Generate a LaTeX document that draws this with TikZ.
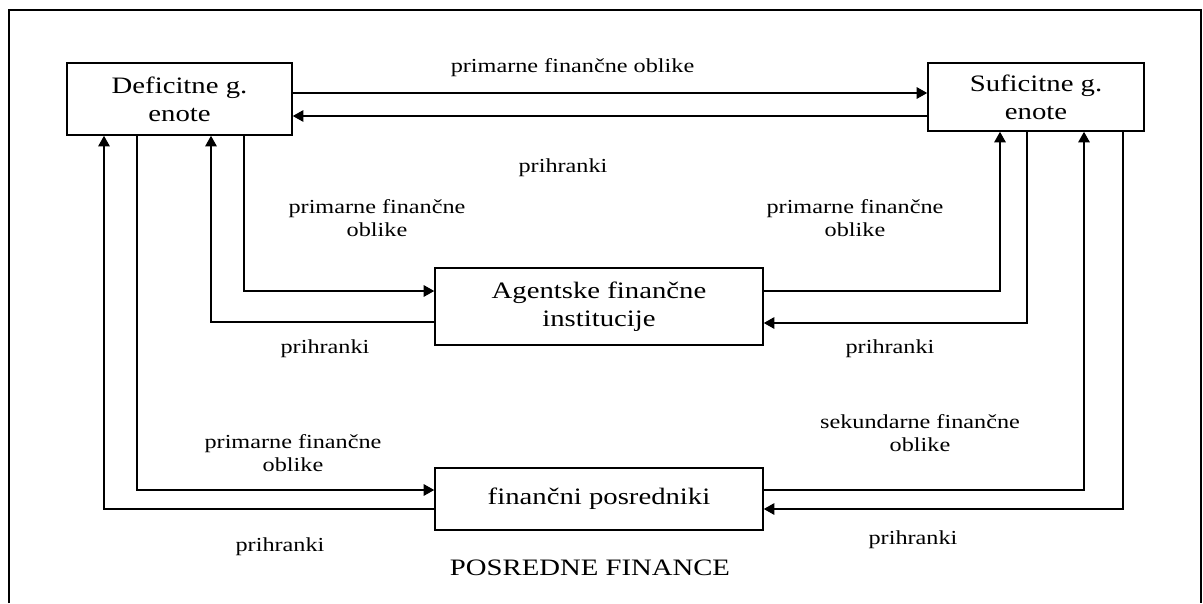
\documentclass[tikz,border=0pt]{standalone}
\usepackage{fontspec}
\setmainfont{Liberation Serif}[FakeStretch=1.22]
\usetikzlibrary{arrows.meta}

\tikzset{
  unit/.style={draw,line width=0.9pt,align=center,inner sep=0pt,
    font=\fontsize{13.4}{15.8}\selectfont},
  flow/.style={line width=0.9pt,-{Triangle[length=6pt,width=6.5pt]}},
  lbl/.style={align=center,inner sep=0pt,font=\fontsize{11.3}{13}\selectfont}
}

\begin{document}
\begin{tikzpicture}[x=0.02cm,y=0.02cm]
  \useasboundingbox (0,0) rectangle (1203,603);
  % frame
  \draw[line width=0.9pt] (9,0) -- (9,593) -- (1201,593) -- (1201,0);

  % units
  \node[unit,minimum width=4.5cm,minimum height=1.44cm] (def) at (179.5,504) {Deficitne g.\\enote};
  \node[unit,minimum width=4.32cm,minimum height=1.36cm] (suf) at (1036,506) {Suficitne g.\\enote};
  \node[unit,minimum width=6.56cm,minimum height=1.54cm] (agent) at (599,296.5) {Agentske finančne\\institucije};
  \node[unit,minimum width=6.56cm,minimum height=1.24cm] (posr) at (599,104) {finančni posredniki};

  % direct finance
  \draw[flow] (def.east |- 0,510) -- (suf.west |- 0,510);
  \draw[flow] (suf.west |- 0,487) -- (def.east |- 0,487);

  % agents
  \draw[flow] (def.south -| 244,0) |- (agent.west |- 0,312);
  \draw[flow] (agent.west |- 0,281) -| (def.south -| 211,0);
  \draw[flow] (agent.east |- 0,312) -| (suf.south -| 1000,0);
  \draw[flow] (suf.south -| 1027,0) |- (agent.east |- 0,280);

  % intermediaries
  \draw[flow] (def.south -| 137,0) |- (posr.west |- 0,113);
  \draw[flow] (posr.west |- 0,94) -| (def.south -| 104,0);
  \draw[flow] (posr.east |- 0,113) -| (suf.south -| 1084,0);
  \draw[flow] (suf.south -| 1123,0) |- (posr.east |- 0,94);

  % labels
  \node[lbl] (l1) at (572.5,535) {primarne finančne oblike};
  \node[lbl] (l2) at (563,435) {prihranki};
  \node[lbl] (l3) at (377,384.5) {primarne finančne\\oblike};
  \node[lbl] (l4) at (855,384.5) {primarne finančne\\oblike};
  \node[lbl] (l5) at (325,254) {prihranki};
  \node[lbl] (l6) at (890,254) {prihranki};
  \node[lbl] (l7) at (293,149.5) {primarne finančne\\oblike};
  \node[lbl] (l8) at (920,169.5) {sekundarne finančne\\oblike};
  \node[lbl] (l9) at (280,56) {prihranki};
  \node[lbl] (l10) at (913,63) {prihranki};
  \node[lbl,font=\fontsize{13.4}{15.8}\selectfont] (title) at (590,35) {POSREDNE FINANCE};
\end{tikzpicture}
\end{document}
